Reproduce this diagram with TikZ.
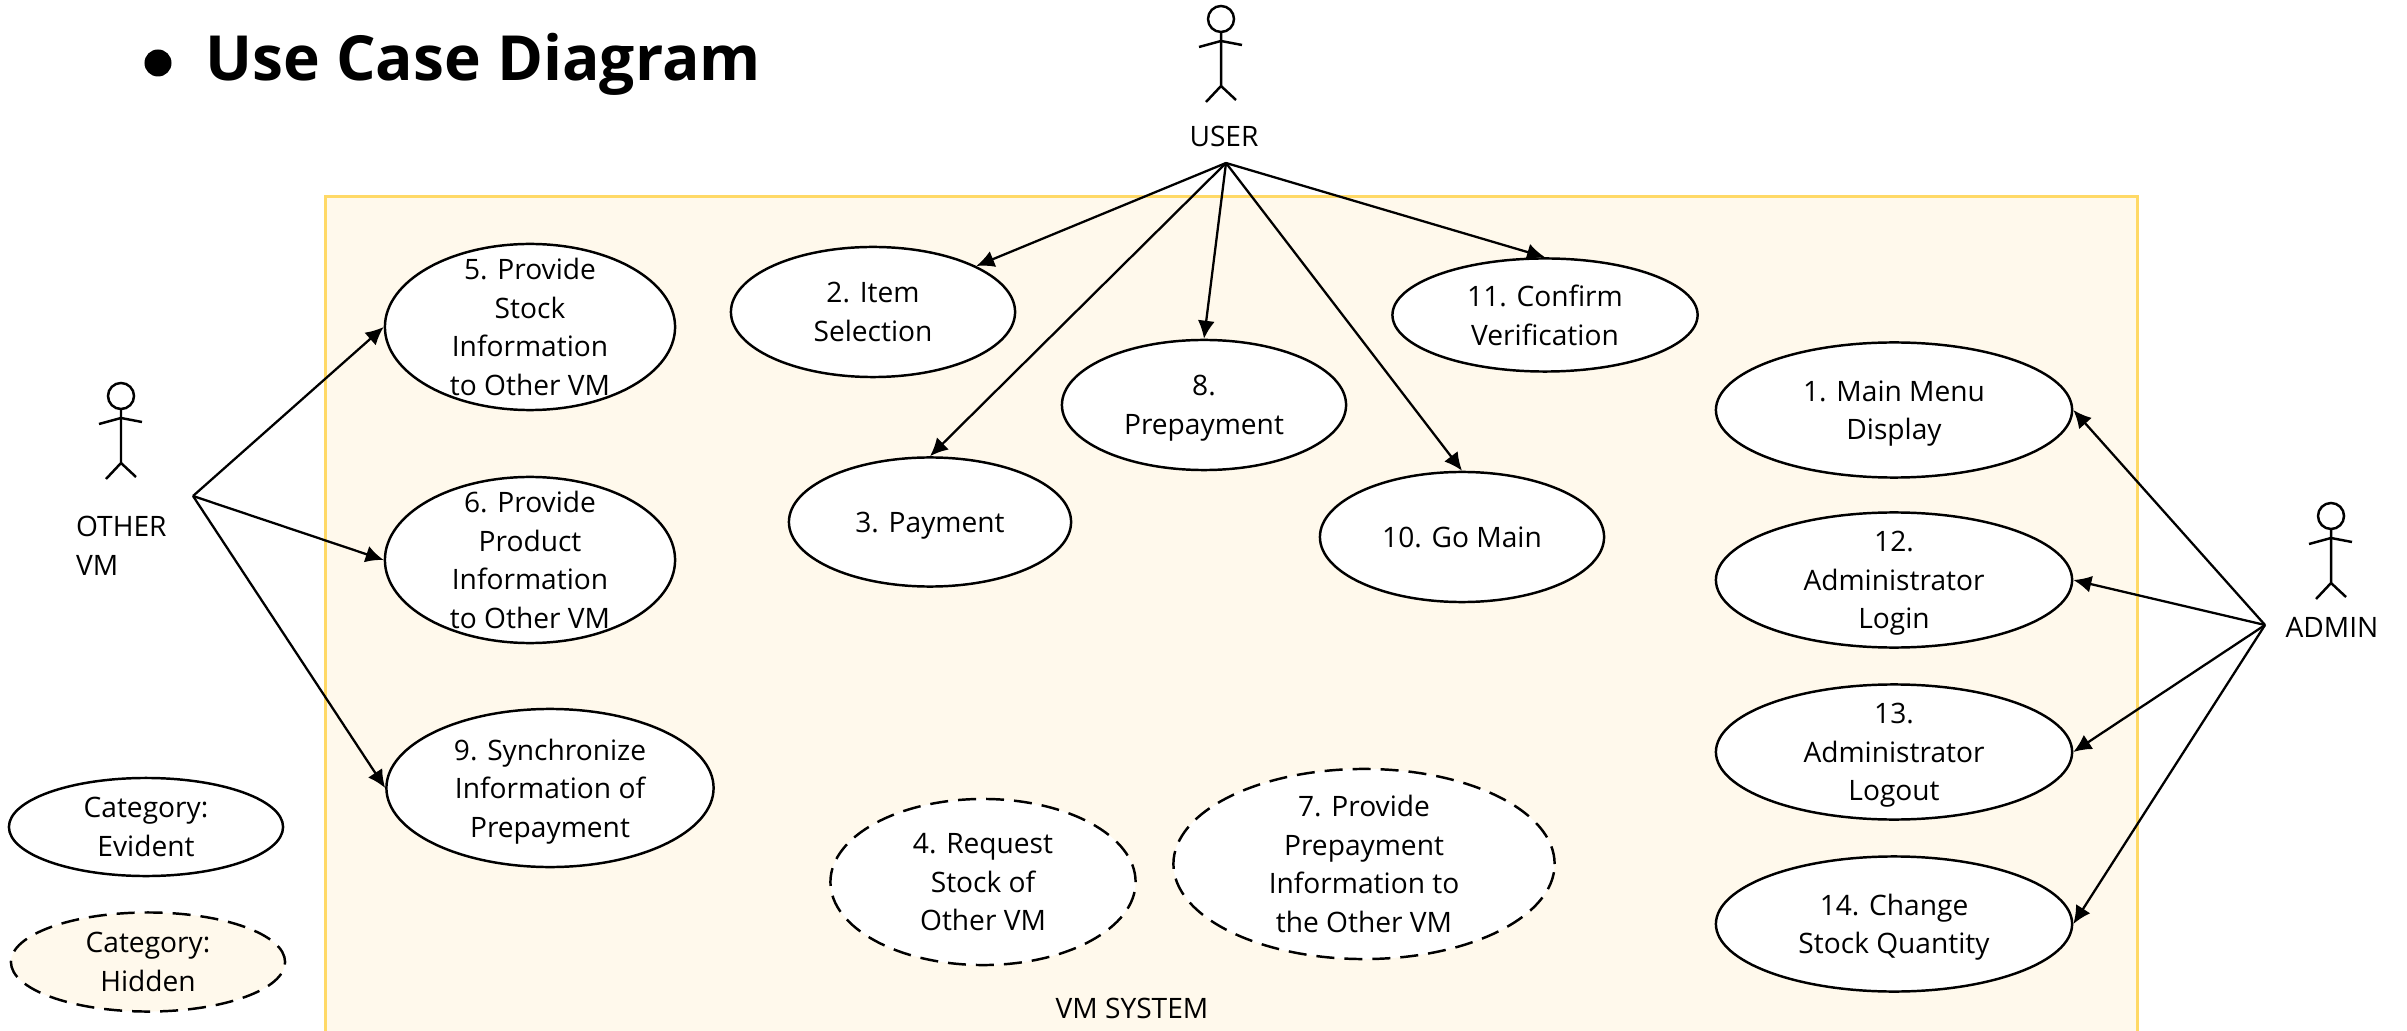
\documentclass[tikz,border=0pt]{standalone}
\usepackage{fontspec}
\setmainfont{Open Sans}
\usetikzlibrary{shapes.geometric,arrows.meta}
\definecolor{framefill}{HTML}{FFF9EC}
\definecolor{frameline}{HTML}{FFD966}
\tikzset{
    usecase/.style={draw, ellipse, fill=white, align=center, inner sep=-1cm, line width=0.7pt,
        font=\fontsize{8}{10.95}\selectfont, text depth=-2.5pt},
    hiddencase/.style={usecase, dash pattern=on 1.8mm off 1mm},
    textlabel/.style={align=center, inner sep=0pt, font=\fontsize{8}{10.95}\selectfont},
    actorfig/.pic={
        \draw [line width=0.7pt] (0,0) circle (1.3mm);
        \draw [line width=0.7pt] (0,13) -- (0,67) -- (-15,83) (0,67) -- (15,81);
        \draw [line width=0.7pt] (-22,28) -- (0,22) -- (21,26);
    }
}
\begin{document}
\begin{tikzpicture}[x=0.01cm, y=-0.01cm, >={Latex[length=1.8mm,width=1.7mm]}, line width=0.65pt]
    \path [use as bounding box, clip] (0,0) rectangle (2407,1031);

    % System frame
    \draw [frameline, fill=framefill, line width=0.85pt] (325.5,196.5) rectangle (2137,1050);
    \node [textlabel] (vmsystem) at (1132,1008) {VM SYSTEM};

    % Title
    \node [circle, fill=black, inner sep=0pt, minimum size=0.27cm] (bullet) at (158,63) {};
    \node [anchor=base west, inner sep=0pt, font=\fontsize{17.7}{22}\selectfont\bfseries] (title) at (204,81) {Use Case Diagram};

    % Actors
    \pic at (1221,19) {actorfig};
    \pic at (121,396) {actorfig};
    \pic at (2331,516) {actorfig};
    \node [textlabel] (user) at (1224,136) {USER};
    \node [textlabel, align=left, anchor=west] (othervm) at (75,546) {OTHER\\VM};
    \node [textlabel] (admin) at (2332,627) {ADMIN};
    \coordinate (userpt) at (1226,163);
    \coordinate (otherpt) at (193,496);
    \coordinate (adminpt) at (2265,625);

    % Use cases
    \node [usecase, minimum width=2.9cm, minimum height=1.66cm] (uc5) at (530,327) {5. Provide\\Stock\\Information\\to Other VM};
    \node [usecase, minimum width=2.9cm, minimum height=1.66cm] (uc6) at (530,560) {6. Provide\\Product\\Information\\to Other VM};
    \node [usecase, minimum width=3.27cm, minimum height=1.58cm] (uc9) at (550,788) {9. Synchronize\\Information of\\Prepayment};
    \node [usecase, minimum width=2.84cm, minimum height=1.3cm] (uc2) at (873,312) {2. Item\\Selection};
    \node [usecase, minimum width=2.82cm, minimum height=1.29cm] (uc3) at (930,522) {3. Payment};
    \node [usecase, minimum width=2.84cm, minimum height=1.3cm] (uc8) at (1204,405) {8.\\Prepayment};
    \node [usecase, minimum width=2.84cm, minimum height=1.3cm] (uc10) at (1462,537) {10. Go Main};
    \node [usecase, minimum width=3.05cm, minimum height=1.13cm] (uc11) at (1545,315) {11. Confirm\\Verification};
    \node [usecase, minimum width=3.56cm, minimum height=1.35cm] (uc1) at (1894,410) {1. Main Menu\\Display};
    \node [usecase, minimum width=3.56cm, minimum height=1.35cm] (uc12) at (1894,580) {12.\\Administrator\\Login};
    \node [usecase, minimum width=3.56cm, minimum height=1.35cm] (uc13) at (1894,752) {13.\\Administrator\\Logout};
    \node [usecase, minimum width=3.56cm, minimum height=1.35cm] (uc14) at (1894,924) {14. Change\\Stock Quantity};
    \node [hiddencase, minimum width=3.05cm, minimum height=1.66cm] (uc4) at (983,882) {4. Request\\Stock of\\Other VM};
    \node [hiddencase, minimum width=3.81cm, minimum height=1.9cm] (uc7) at (1364,864) {7. Provide\\Prepayment\\Information to\\the Other VM};

    % Legend
    \node [usecase, minimum width=2.74cm, minimum height=0.98cm] (evident) at (146,827) {Category:\\Evident};
    \node [hiddencase, fill=framefill, minimum width=2.74cm, minimum height=0.99cm] (hidden) at (148,962) {Category:\\Hidden};

    % Connections
    \draw [->] (userpt) -- (uc2.24);
    \draw [->] (userpt) -- (uc3.north);
    \draw [->] (userpt) -- (uc8.north);
    \draw [->] (userpt) -- (uc10.north);
    \draw [->] (userpt) -- (uc11.north);
    \draw [->] (otherpt) -- (uc5.west);
    \draw [->] (otherpt) -- (uc6.west);
    \draw [->] (otherpt) -- (uc9.west);
    \draw [->] (adminpt) -- (uc1.east);
    \draw [->] (adminpt) -- (uc12.east);
    \draw [->] (adminpt) -- (uc13.east);
    \draw [->] (adminpt) -- (uc14.east);
\end{tikzpicture}
\end{document}
